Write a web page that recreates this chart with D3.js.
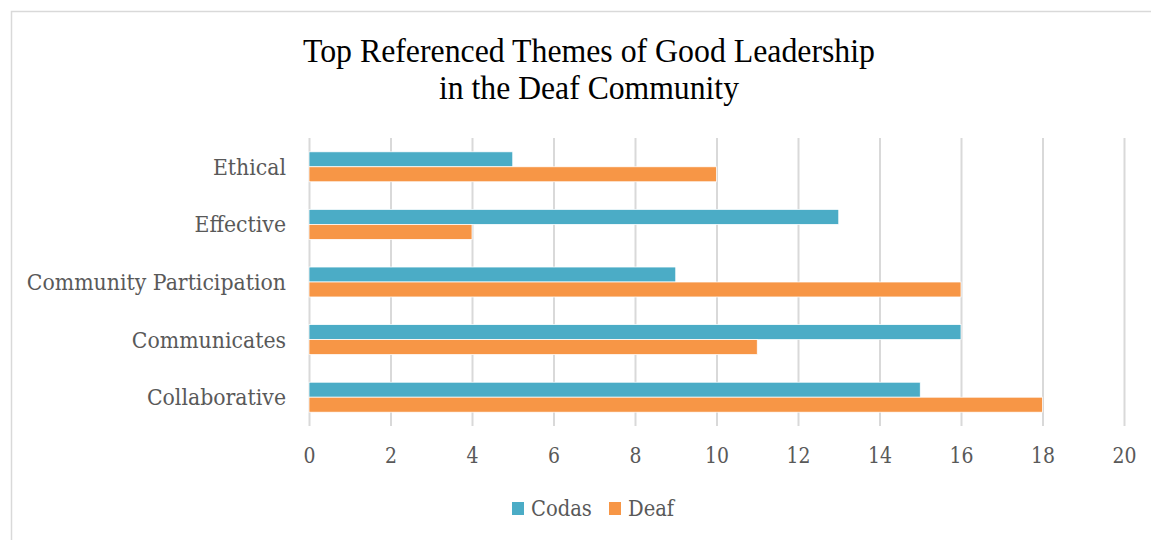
<!DOCTYPE html>
<html>
<head>
<meta charset="utf-8">
<script src="https://cdn.jsdelivr.net/npm/d3@7"></script>
<style>
  body { margin: 0; background: #ffffff; }
  text { font-family: "Liberation Serif", serif; }
</style>
</head>
<body>
<div id="container"></div>
<script>
/* DATA */
const themes = ["Ethical", "Effective", "Community Participation", "Communicates", "Collaborative"];
const series = ["Codas", "Deaf"];
const codas = [5, 13, 9, 16, 15];
const deaf = [10, 4, 16, 11, 18];
const xTicks = [0, 2, 4, 6, 8, 10, 12, 14, 16, 18, 20];
const titleLines = ["Top Referenced Themes of Good Leadership", "in the Deaf Community"];

/* CONSTANTS */
const width = 1151;
const height = 540;
const margin = { top: 138, right: 27, bottom: 114, left: 309 };
const colors = ["#4bacc6", "#f79646"];
const labelFont = "'DejaVu Serif', serif";
const squeeze = 0.89; // labels are narrower than DejaVu Serif

const svg = d3.select("#container")
  .append("svg")
  .attr("width", width)
  .attr("height", height);

// chart area border
svg.append("rect")
  .attr("x", 11.5)
  .attr("y", 11.5)
  .attr("width", width)
  .attr("height", height)
  .attr("fill", "#ffffff")
  .attr("stroke", "#d9d9d9")
  .attr("stroke-width", 1.5);

/* SCALES */
const xScale = d3.scaleLinear()
  .domain([0, 20])
  .range([margin.left, width - margin.right]);

const yScale = d3.scaleBand()
  .domain(themes)
  .range([margin.top, height - margin.bottom])
  .paddingInner(0.48)
  .paddingOuter(0.24);

const subScale = d3.scaleBand()
  .domain(series)
  .range([0, yScale.bandwidth()]);

const colorScale = d3.scaleOrdinal()
  .domain(series)
  .range(colors);

/* TITLE */
svg.selectAll(".title")
  .data(titleLines)
  .join("text")
  .attr("class", "title")
  .attr("x", 589)
  .attr("y", (d, i) => 62 + i * 37)
  .attr("text-anchor", "middle")
  .attr("fill", "#000000")
  .style("font-size", "34px")
  .attr("textLength", (d, i) => i === 0 ? 572 : 300)
  .attr("lengthAdjust", "spacingAndGlyphs")
  .text(d => d);

/* GRID + X AXIS */
const xAxis = svg.append("g")
  .attr("class", "x-axis")
  .attr("transform", `translate(0,${height - margin.bottom})`)
  .call(d3.axisBottom(xScale)
    .tickValues(xTicks)
    .tickSize(-(height - margin.bottom - margin.top))
    .tickPadding(21));

xAxis.select(".domain").remove();
xAxis.selectAll(".tick line")
  .attr("stroke", "#d9d9d9")
  .attr("stroke-width", 2);
xAxis.selectAll(".tick text")
  .attr("fill", "#595959")
  .style("font-family", labelFont)
  .style("font-size", "23px")
  .attr("transform", "scale(0.82,1)");

/* Y LABELS */
svg.selectAll(".ylabel")
  .data(themes)
  .join("text")
  .attr("class", "ylabel")
  .attr("transform", d => `translate(286,${yScale(d) + yScale.bandwidth() / 2 + 8}) scale(${squeeze},1)`)
  .attr("text-anchor", "end")
  .attr("fill", "#595959")
  .style("font-family", labelFont)
  .style("font-size", "23px")
  .text(d => d);

/* BARS */
const rows = themes.map((t, i) => ({ theme: t, values: [codas[i], deaf[i]] }));

svg.selectAll(".group")
  .data(rows)
  .join("g")
  .attr("class", "group")
  .attr("transform", d => `translate(0,${yScale(d.theme)})`)
  .selectAll("rect")
  .data(d => series.map((s, j) => ({ key: s, value: d.values[j] })))
  .join("rect")
  .attr("x", xScale(0))
  .attr("y", d => subScale(d.key))
  .attr("width", d => xScale(d.value) - xScale(0))
  .attr("height", subScale.bandwidth())
  .attr("fill", d => colorScale(d.key))
  .attr("stroke", "#ffffff")
  .attr("stroke-width", 0.75);

/* LEGEND */
const legendX = [512, 609];
const legend = svg.selectAll(".legend")
  .data(series)
  .join("g")
  .attr("class", "legend")
  .attr("transform", (d, i) => `translate(${legendX[i]},502)`);

legend.append("rect")
  .attr("width", 12)
  .attr("height", 13)
  .attr("fill", d => colorScale(d));

legend.append("text")
  .attr("transform", `translate(19,14) scale(0.85,1)`)
  .attr("fill", "#595959")
  .style("font-family", labelFont)
  .style("font-size", "23px")
  .text(d => d);
</script>
</body>
</html>
